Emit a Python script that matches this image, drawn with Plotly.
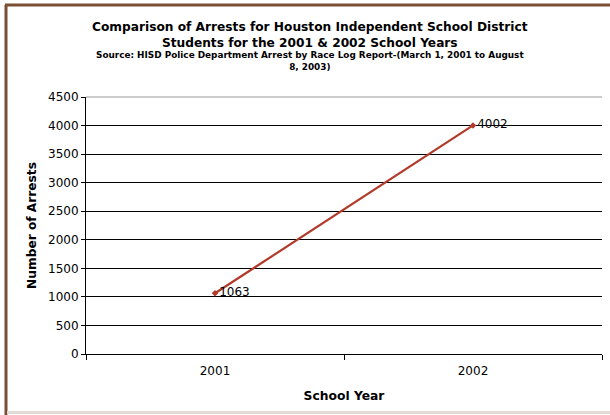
import plotly.graph_objects as go

years = ["2001", "2002"]
arrests = [1063, 4002]
y_ticks = list(range(0, 4501, 500))

W, H = 610, 415
ML, MR, MT, MB = 86, 8, 97, 61
PW, PH = W - ML - MR, H - MT - MB

def px(x):
    return (x - ML) / PW

def py(y):
    return (H - MB - y) / PH

fig = go.Figure()
fig.add_trace(go.Scatter(
    x=years, y=arrests, mode="lines+markers+text",
    line=dict(color="#B23A2A", width=2.2),
    marker=dict(symbol="diamond", size=5, color="#B23A2A"),
    text=[str(v) for v in arrests], textposition="middle right",
    textfont=dict(family="DejaVu Sans, Verdana", size=12, color="#000"),
    cliponaxis=False, showlegend=False, hoverinfo="skip",
))

fig.update_layout(
    width=W, height=H,
    margin=dict(l=ML, r=MR, t=MT, b=MB),
    paper_bgcolor="white", plot_bgcolor="white",
    font=dict(family="DejaVu Sans, Verdana", color="#000"),
    xaxis=dict(
        type="category", range=[-0.5, 1.5], tickson="boundaries",
        ticks="outside", ticklen=5, tickcolor="#000", tickwidth=1,
        showline=True, linecolor="#000", linewidth=1.3, showgrid=False,
        tickfont=dict(size=12), zeroline=False, ticklabelstandoff=5,
        title=dict(text="<b>School Year</b>", font=dict(size=12.3), standoff=14),
    ),
    yaxis=dict(
        range=[0, 4500], tickvals=y_ticks, ticks="outside", ticklen=4,
        tickcolor="#000", showline=True, linecolor="#000", linewidth=1,
        showgrid=True, gridcolor="#000", gridwidth=1, zeroline=False,
        tickfont=dict(size=12),
        title=dict(text="<b>Number of Arrests</b>", font=dict(size=12.2), standoff=8),
    ),
)

# top border of plot area (gray)
fig.add_shape(type="line", xref="paper", yref="paper", x0=0, x1=1, y0=1, y1=1,
              line=dict(color="#999", width=1.2))
# outer frame
fig.add_shape(type="line", xref="paper", yref="paper", x0=px(6), x1=px(6), y0=py(5), y1=py(415),
              line=dict(color="#7B4F35", width=3))
fig.add_shape(type="line", xref="paper", yref="paper", x0=px(5), x1=px(610), y0=py(5), y1=py(5),
              line=dict(color="#7B4F35", width=3))
fig.add_shape(type="line", xref="paper", yref="paper", x0=px(7), x1=px(610), y0=py(412.5), y1=py(412.5),
              line=dict(color="#E3DCD4", width=3))

fig.add_annotation(xref="paper", yref="paper", x=px(310), y=py(35), xanchor="center", yanchor="middle",
                   text="<b>Comparison of Arrests for Houston Independent School District<br>Students for the 2001 &amp; 2002 School Years</b>",
                   showarrow=False, font=dict(size=12.2), align="center")
fig.add_annotation(xref="paper", yref="paper", x=px(310), y=py(60.5), xanchor="center", yanchor="middle",
                   text="<b>Source: HISD Police Department Arrest by Race Log Report-(March 1, 2001 to August<br>8, 2003)</b>",
                   showarrow=False, font=dict(size=8.9), align="center")

fig.write_html("out.html")
